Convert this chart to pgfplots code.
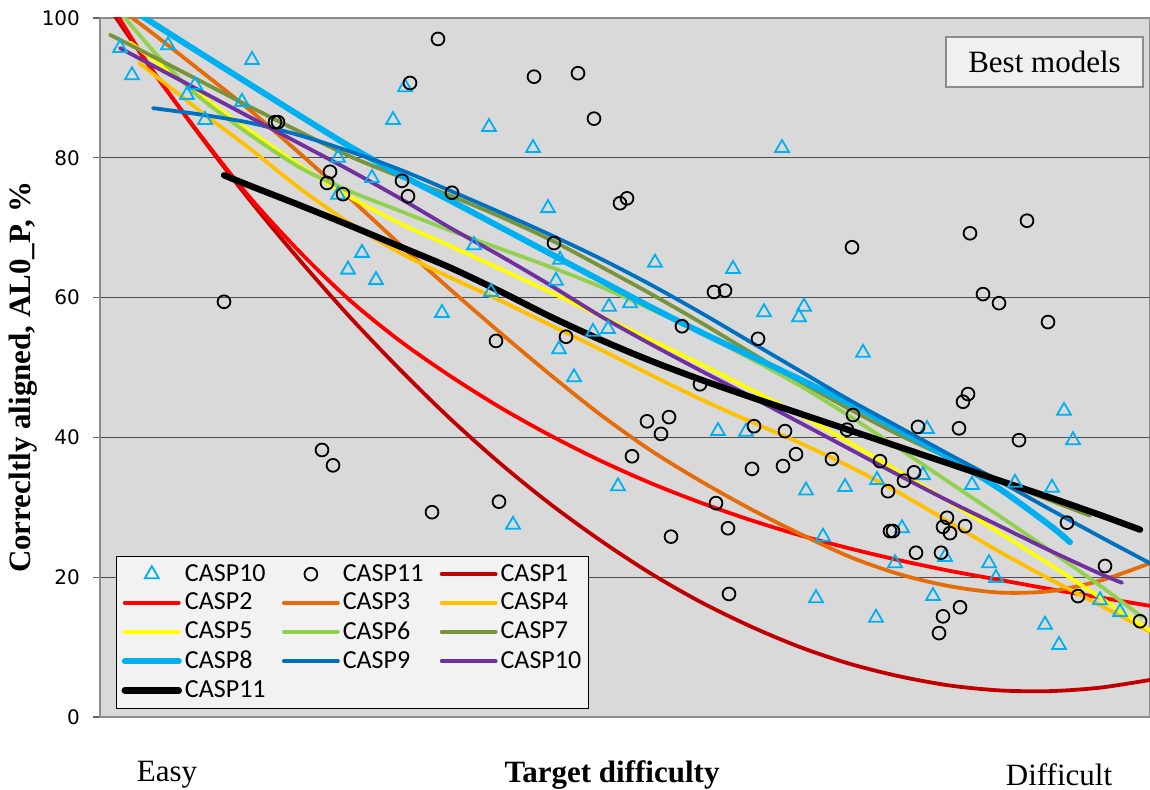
\documentclass[border=0pt]{standalone}
\usepackage{fontspec}
\setmainfont{Liberation Serif}
\newfontfamily\legfont{Carlito}
\newfontfamily\tickfont{DejaVu Sans}
\usepackage{pgfplots}
\pgfplotsset{compat=1.18}
\definecolor{cA}{HTML}{C00000}
\definecolor{cB}{HTML}{FF0000}
\definecolor{cC}{HTML}{E46C0A}
\definecolor{cD}{HTML}{FFC000}
\definecolor{cE}{HTML}{FFFF00}
\definecolor{cF}{HTML}{92D050}
\definecolor{cG}{HTML}{77933C}
\definecolor{cH}{HTML}{00B0F0}
\definecolor{cI}{HTML}{0070C0}
\definecolor{cJ}{HTML}{7030A0}
\definecolor{bg}{HTML}{D9D9D9}
\pgfplotsset{
  lineleg/.style={legend image code/.code={\draw[##1] (0pt,0pt) -- (27pt,0pt);}},
  markleg/.style={legend image code/.code={\draw[##1] plot coordinates {(13.5pt,0pt)};}},
  trend/.style={smooth, no markers, line width=1.9pt, line cap=round, line join=round, lineleg},
}
\begin{document}
\begin{tikzpicture}
\useasboundingbox (-50pt,-36.5pt) rectangle (525pt,358.5pt);
\begin{axis}[
  at={(0pt,0pt)}, anchor=south west,
  scale only axis, width=525pt, height=349.5pt,
  xmin=100, xmax=1150, ymin=0, ymax=100,
  axis background/.style={fill=bg},
  axis line style={draw=black!45, line width=1pt},
  xtick=\empty,
  ytick={0,20,...,100},
  ymajorgrids, major grid style={black!70, line width=0.6pt},
  tick align=outside, major tick length=3.5pt,
  tick style={black!60, line width=0.6pt},
  /pgf/number format/assume math mode=true,
  yticklabel style={font=\tickfont\fontsize{10}{12}\selectfont, xshift=-3pt},
  legend style={at={(axis cs:116,1.15)}, anchor=south west, fill=black!5, draw=black,
    line width=0.6pt, legend columns=3, font=\legfont\fontsize{13}{15}\selectfont,
    nodes={inner sep=1.5pt}, inner sep=2.5pt, row sep=1.4pt},
  legend cell align=left,
]
\addplot[only marks, mark=triangle, mark size=4pt, mark options={draw=cH, line width=0.9pt}, markleg] coordinates {
(120,95.7) (132,91.8) (168,96.1) (187,89.0) (195,90.4) (205,85.4) (242,88.0) (252,94.0)
(338,80.0) (372,77.1) (338,74.7) (362,66.4) (348,64.0) (376,62.5) (393,85.4) (405,90.1)
(442,57.8) (474,67.5) (489,84.4) (491,60.8) (513,27.5) (533,81.4) (548,72.8) (556,62.4)
(559,52.6) (560,65.4) (574,48.6) (593,55.1) (608,55.5) (609,58.7) (618,33.0) (630,59.2)
(655,65.0) (718,40.9) (733,64.1) (746,40.8) (764,57.9) (782,81.4) (799,57.2) (804,58.7)
(806,32.4) (816,17.0) (823,25.8) (845,32.9) (863,52.1) (876,14.2) (877,33.9) (895,22.0)
(902,27.0) (923,34.6) (927,41.2) (933,17.3) (945,22.9) (972,33.2) (989,22.0) (996,19.9)
(1015,33.5) (1045,13.2) (1052,32.8) (1059,10.3) (1064,43.8) (1073,39.6) (1100,16.7) (1120,15.0)
};
\addlegendentry{\makebox[47pt][l]{CASP10}}
\addplot[only marks, mark=o, mark size=3.2pt, mark options={draw=black, line width=0.9pt}, markleg] coordinates {
(224,59.4) (275,85.1) (278,85.1) (322,38.2) (330,78.0) (327,76.4) (333,36.0) (343,74.8)
(402,76.7) (408,74.5) (410,90.7) (432,29.3) (438,97.0) (452,75.0) (496,53.8) (499,30.8)
(534,91.6) (554,67.8) (566,54.4) (578,92.1) (594,85.6) (620,73.5) (627,74.2) (632,37.3)
(647,42.3) (661,40.5) (669,42.9) (671,25.8) (682,55.9) (700,47.6) (714,60.8) (716,30.6)
(725,61.0) (728,27.0) (729,17.6) (752,35.5) (754,41.6) (758,54.1) (783,35.9) (785,40.9)
(796,37.6) (832,36.9) (847,41.1) (852,67.2) (853,43.2) (880,36.6) (888,32.3) (890,26.6)
(893,26.6) (904,33.8) (914,35.0) (916,23.5) (918,41.5) (939,12.0) (941,23.5) (943,14.4)
(943,27.2) (947,28.5) (950,26.3) (959,41.3) (960,15.7) (963,45.1) (965,27.3) (968,46.2)
(970,69.2) (983,60.5) (999,59.2) (1019,39.6) (1027,71.0) (1048,56.5) (1067,27.8) (1078,17.3)
(1105,21.6) (1140,13.7)
};
\addlegendentry{\makebox[47pt][l]{CASP11}}
\addplot[trend, cA] coordinates {(100,103.4) (150,93.0) (200,83.2) (250,73.9) (300,65.3) (350,57.2) (400,49.7) (450,42.7) (500,36.3) (550,30.5) (600,25.3) (650,20.6) (700,16.5) (750,13.0) (800,10.0) (850,7.6) (900,5.8) (950,4.5) (1000,3.8) (1050,3.7) (1100,4.2) (1150,5.3)};
\addlegendentry{\makebox[40pt][l]{CASP1}}
\addplot[trend, cB] coordinates {(110,102.2) (150,93.0) (200,83.3) (250,74.3) (300,66.5) (350,59.6) (400,53.8) (450,48.8) (500,44.3) (550,40.3) (600,36.7) (650,33.5) (700,30.7) (750,28.2) (800,26.0) (850,24.1) (900,22.4) (950,20.9) (1000,19.6) (1050,18.3) (1100,17.1) (1150,15.9)};
\addlegendentry{\makebox[47pt][l]{CASP2}}
\addplot[trend, cC] coordinates {(120,101.3) (150,98.1) (200,92.5) (250,86.8) (300,80.6) (350,74.2) (400,67.6) (450,61.2) (500,55.0) (550,49.0) (600,43.3) (650,38.2) (700,33.8) (750,29.8) (800,26.2) (850,22.9) (900,20.4) (950,18.7) (1000,17.8) (1050,18.0) (1100,19.5) (1150,22.0)};
\addlegendentry{\makebox[47pt][l]{CASP3}}
\addplot[trend, cD] coordinates {(139,93.6) (200,86.7) (250,81.3) (300,75.6) (350,70.6) (400,66.4) (450,62.9) (500,59.6) (550,56.1) (600,52.6) (650,49.0) (700,45.5) (750,42.3) (800,39.2) (850,35.8) (900,32.0) (950,27.8) (1000,23.6) (1050,19.7) (1100,16.0) (1150,12.2)};
\addlegendentry{\makebox[40pt][l]{CASP4}}
\addplot[trend, cE] coordinates {(130,96.5) (150,94.4) (200,89.0) (250,83.8) (300,78.9) (350,74.4) (400,70.6) (450,67.4) (500,64.1) (550,60.8) (600,57.4) (650,54.0) (700,50.5) (750,46.9) (800,43.2) (850,39.2) (900,35.0) (950,30.7) (1000,26.3) (1050,21.8) (1100,17.1) (1150,12.4)};
\addlegendentry{\makebox[47pt][l]{CASP5}}
\addplot[trend, cF] coordinates {(118,101.2) (150,95.8) (175,92.0) (200,88.6) (250,83.3) (300,78.6) (350,75.2) (400,72.4) (450,69.6) (500,67.0) (550,64.4) (600,61.6) (650,58.4) (700,55.0) (750,51.3) (800,47.4) (850,43.0) (900,38.3) (950,33.5) (1000,28.7) (1050,23.8) (1100,18.8) (1142,14.3)};
\addlegendentry{\makebox[47pt][l]{CASP6}}
\addplot[trend, cG] coordinates {(110,97.6) (150,94.7) (200,91.0) (250,87.3) (300,83.7) (350,80.2) (400,77.3) (450,74.6) (500,71.6) (550,68.3) (600,64.5) (650,60.6) (700,56.5) (750,52.2) (800,48.0) (850,44.0) (900,40.3) (950,37.0) (1000,33.8) (1050,31.0) (1090,28.8)};
\addlegendentry{\makebox[40pt][l]{CASP7}}
\addplot[trend, cH, line width=3pt] coordinates {(135,101) (145,100) (200,95.0) (250,90.5) (300,86.0) (350,81.6) (400,77.6) (450,73.9) (500,70.1) (550,66.3) (600,62.5) (650,58.7) (700,55.1) (750,51.7) (800,48.3) (850,44.8) (900,41.0) (950,37.0) (1000,32.6) (1050,27.4) (1070,25.0)};
\addlegendentry{\makebox[47pt][l]{CASP8}}
\addplot[trend, cI] coordinates {(153,87.1) (200,86.2) (250,85.0) (300,83.2) (350,80.9) (400,78.3) (450,75.3) (500,72.2) (550,69.0) (600,65.6) (650,61.9) (700,57.9) (750,53.7) (800,49.5) (850,45.3) (900,41.4) (950,37.5) (1000,33.7) (1050,29.7) (1100,25.8) (1150,22.0)};
\addlegendentry{\makebox[47pt][l]{CASP9}}
\addplot[trend, cJ] coordinates {(120,95.7) (150,93.4) (200,89.6) (250,85.8) (300,82.0) (350,78.2) (400,74.2) (450,70.0) (500,66.0) (550,61.8) (600,57.4) (650,53.4) (700,49.6) (750,45.9) (800,42.1) (850,38.3) (900,34.5) (950,30.8) (1000,27.3) (1050,23.8) (1100,20.5) (1122,19.2)};
\addlegendentry{\makebox[40pt][l]{CASP10}}
\addplot[trend, black, line width=3.2pt] coordinates {(224,77.5) (250,76.0) (300,73.2) (350,70.3) (400,67.3) (450,64.3) (500,60.9) (550,57.3) (600,54.0) (650,51.0) (700,48.3) (750,45.8) (800,43.4) (850,41.0) (900,38.6) (950,36.2) (1000,33.8) (1050,31.4) (1100,28.9) (1140,26.8)};
\addlegendentry{\makebox[47pt][l]{CASP11}}
\end{axis}
\node[fill=black!6, draw=black!45, line width=0.8pt, minimum width=98.5pt, minimum height=25pt, inner sep=0pt,
  font=\fontsize{15.5}{18}\selectfont] at (472.25pt,327.5pt) {Best models};
\node[font=\fontsize{15.5}{18}\selectfont] at (33.5pt,-29pt) {Easy};
\node[font=\bfseries\fontsize{15.5}{18}\selectfont] at (256pt,-29pt) {Target difficulty};
\node[font=\fontsize{15.5}{18}\selectfont] at (479.5pt,-29pt) {Difficult};
\node[rotate=90, font=\bfseries\fontsize{15.5}{18}\selectfont] at (-38.5pt,170pt) {Correcltly aligned, AL0\_P, \%};
\end{tikzpicture}
\end{document}
